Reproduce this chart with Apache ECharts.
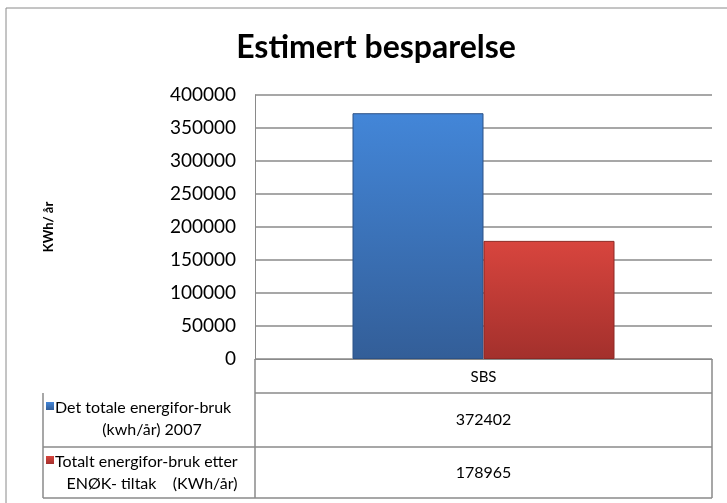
<!DOCTYPE html>
<html>
<head>
<meta charset="utf-8">
<script src="https://cdn.jsdelivr.net/npm/echarts@6/dist/echarts.min.js"></script>
<style>
  html, body { margin: 0; padding: 0; background: #fff; }
  #chart { width: 727px; height: 503px; }
</style>
</head>
<body>
<div id="chart"></div>
<script>
// data
var categories = ['SBS'];
var seriesNames = ['Det totale energifor-bruk\n(kwh/år) 2007', 'Totalt energifor-bruk etter\nENØK- tiltak    (KWh/år)'];
var totalBefore = [372402];
var totalAfter = [178965];
var yTicks = [0, 50000, 100000, 150000, 200000, 250000, 300000, 350000, 400000];

var FONT = 'Lato, "Open Sans", sans-serif';
var LINE = '#8a8a8a';

var blueFill = new echarts.graphic.LinearGradient(0, 0, 0, 1, [
  {offset: 0, color: '#4386d8'}, {offset: 1, color: '#335e98'}
]);
var redFill = new echarts.graphic.LinearGradient(0, 0, 0, 1, [
  {offset: 0, color: '#d8453e'}, {offset: 1, color: '#a3302c'}
]);

// table geometry (plot spans x 255..712, 0-line at y 359)
var tl = 43, tm = 255, tr = 712;
var rows = [359, 393, 447, 498];
var values = [totalBefore, totalAfter];
var fills = [blueFill, redFill];

var graphics = [
  // outer chart frame
  {type: 'rect', shape: {x: 6, y: 8, width: 740, height: 520}, style: {fill: 'none', stroke: LINE, lineWidth: 1}, silent: true},
  {type: 'line', shape: {x1: tr, y1: rows[0], x2: tr, y2: rows[3]}, style: {stroke: LINE, lineWidth: 1.5}},
  {type: 'line', shape: {x1: tm, y1: rows[0], x2: tm, y2: rows[3]}, style: {stroke: LINE, lineWidth: 1.5}},
  {type: 'line', shape: {x1: tl, y1: rows[1], x2: tl, y2: rows[3]}, style: {stroke: LINE, lineWidth: 1.5}}
];
for (var r = 1; r < rows.length; r++) {
  graphics.push({type: 'line', shape: {x1: r === 1 ? tm : tl, y1: rows[r], x2: tr, y2: rows[r]}, style: {stroke: LINE, lineWidth: 1.5}});
}
for (var i = 0; i < seriesNames.length; i++) {
  var y0 = rows[i + 1], y1 = rows[i + 2];
  var parts = seriesNames[i].split('\n');
  graphics.push({type: 'rect', shape: {x: tl + 3, y: y0 + 9, width: 8, height: 8}, style: {fill: fills[i]}});
  graphics.push({type: 'text', style: {x: tl + 12, y: y0 + 15, text: parts[0], font: '16px ' + FONT, fill: '#000', verticalAlign: 'middle'}});
  graphics.push({type: 'text', style: {x: (tl + tm) / 2 + 3, y: y0 + 37, text: parts[1], font: '16px ' + FONT, fill: '#000', align: 'center', verticalAlign: 'middle'}});
  graphics.push({type: 'text', style: {x: (tm + tr) / 2, y: (y0 + y1) / 2, text: String(values[i][0]), font: '16px ' + FONT, fill: '#000', align: 'center', verticalAlign: 'middle'}});
}

var chart = echarts.init(document.getElementById('chart'));
chart.setOption({
  backgroundColor: '#fff',
  animation: false,
  title: {
    text: 'Estimert besparelse',
    left: 371, top: 27, textAlign: 'center',
    textStyle: {fontFamily: FONT, fontSize: 32, fontWeight: 'bold', color: '#000'}
  },
  grid: {left: 255, right: 15, top: 95, bottom: 144, containLabel: false},
  xAxis: {
    type: 'category',
    data: categories,
    axisLine: {lineStyle: {color: LINE}},
    axisTick: {show: false},
    axisLabel: {margin: 11, fontFamily: FONT, fontSize: 15, color: '#000'}
  },
  yAxis: {
    type: 'value',
    min: yTicks[0], max: yTicks[yTicks.length - 1], interval: yTicks[1] - yTicks[0],
    name: 'KWh/ år',
    nameLocation: 'middle',
    nameGap: 200,
    nameTextStyle: {fontFamily: FONT, fontSize: 13, fontWeight: 'bold', color: '#000'},
    axisLine: {show: true, lineStyle: {color: LINE}},
    axisTick: {show: false},
    axisLabel: {margin: 19, fontFamily: FONT, fontSize: 19, color: '#000', formatter: function (v) { return String(v); }},
    splitLine: {lineStyle: {color: LINE, width: 1.5}}
  },
  series: [
    {name: seriesNames[0], type: 'bar', data: totalBefore, barWidth: 131, barGap: '0%',
     itemStyle: {color: blueFill, borderColor: '#2c5287', borderWidth: 1}},
    {name: seriesNames[1], type: 'bar', data: totalAfter, barWidth: 131,
     itemStyle: {color: redFill, borderColor: '#8e2824', borderWidth: 1}}
  ],
  graphic: graphics
});
</script>
</body>
</html>
